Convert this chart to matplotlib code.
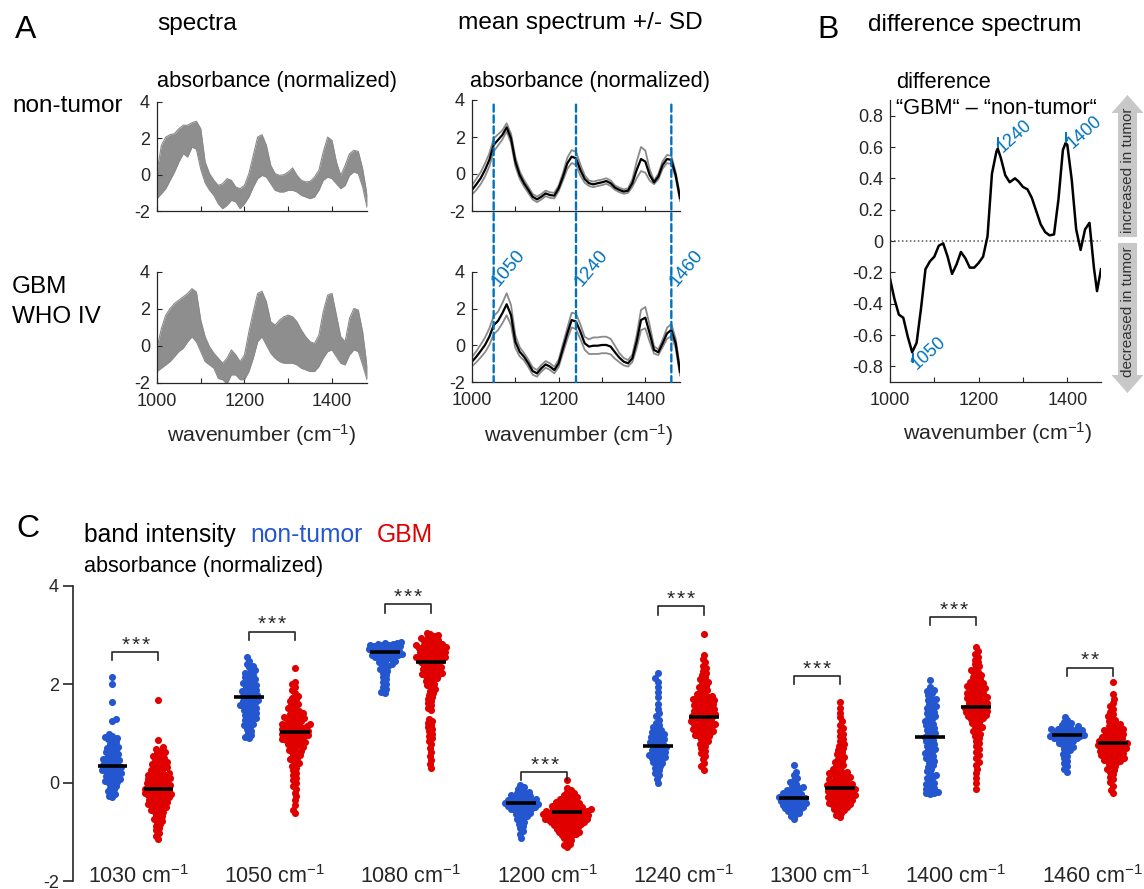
# FTIR band figure: spectra, mean +/- SD, difference spectrum, band intensity swarms
import numpy as np
import matplotlib
matplotlib.use("Agg")
import matplotlib.pyplot as plt
from matplotlib.patches import ConnectionPatch, Polygon

plt.rcParams["font.family"] = ["Liberation Sans", "DejaVu Sans"]
plt.rcParams["mathtext.fontset"] = "custom"
plt.rcParams["mathtext.rm"] = "Liberation Sans"
plt.rcParams["mathtext.it"] = "Liberation Sans:italic"
plt.rcParams["mathtext.bf"] = "Liberation Sans:bold"
plt.rcParams["axes.unicode_minus"] = False

# ---------------- data ----------------
wn = [1000, 1010, 1020, 1030, 1040, 1050, 1060, 1070, 1080, 1090,
      1100, 1110, 1120, 1130, 1140, 1150, 1160, 1170, 1180, 1190,
      1200, 1210, 1220, 1230, 1240, 1250, 1260, 1270, 1280, 1290,
      1300, 1310, 1320, 1330, 1340, 1350, 1360, 1370, 1380, 1390,
      1400, 1410, 1420, 1430, 1440, 1450, 1460, 1470, 1480]

# envelope of the individual spectra
nt_hi = [0.15, 1.61, 2.07, 2.2, 2.26, 2.53, 2.72, 2.72, 2.86, 2.94,
         2.53, 0.7, 0.06, -0.31, -0.59, -0.5, -0.22, -0.31, -0.68, -0.77,
         -0.59, 0.06, 1.06, 2.07, 2.2, 1.61, 0.51, 0.06, -0.04, 0.0,
         0.15, 0.37, -0.04, -0.31, -0.4, -0.37, -0.13, 0.24, 1.25, 2.07,
         1.89, 0.7, -0.04, 0.51, 1.15, 1.34, 1.28, 0.33, -1.1]
nt_lo = [-1.32, -1.05, -0.77, -0.31, 0.15, 0.7, 1.16, 0.97, 1.52, 1.4,
         0.3, -0.45, -0.85, -1.14, -1.6, -1.87, -1.69, -1.41, -1.5, -1.87,
         -1.6, -1.23, -0.68, -0.22, -0.04, -0.13, -0.5, -0.86, -0.95, -0.95,
         -0.86, -0.86, -0.95, -1.14, -1.23, -1.32, -1.23, -0.86, -0.31, -0.13,
         -0.22, -0.5, -0.77, -0.59, -0.04, 0.15, 0.06, -0.68, -1.8]
gbm_hi = [-0.12, 0.95, 1.67, 2.03, 2.3, 2.48, 2.66, 2.84, 3.1, 2.92,
          1.4, 0.5, -0.04, -0.39, -0.66, -0.93, -0.66, -0.21, -0.48, -0.84,
          -0.48, 0.77, 1.85, 2.84, 2.96, 2.39, 1.31, 1.13, 1.4, 1.58,
          1.67, 1.58, 1.31, 0.86, 0.5, 0.23, 0.14, 0.59, 1.85, 2.75,
          2.84, 1.67, 0.5, 0.23, 1.49, 2.03, 1.94, 0.77, -1.1]
gbm_lo = [-1.38, -1.2, -1.02, -0.84, -0.57, -0.3, -0.12, 0.23, 0.5, 0.23,
          -0.3, -0.84, -1.02, -1.2, -1.75, -1.82, -2.05, -1.56, -1.56, -1.82,
          -1.82, -1.38, -0.66, 0.23, 0.5, 0.05, -0.39, -0.66, -0.84, -0.93,
          -0.93, -0.93, -1.02, -1.2, -1.29, -1.38, -1.38, -1.11, -0.66, -0.3,
          -0.21, -0.57, -0.93, -1.02, -0.48, -0.21, -0.3, -1.02, -1.82]

# mean spectra and SD
nt_mean = [-0.86, -0.56, -0.23, 0.22, 0.76, 1.57, 1.84, 2.11, 2.52, 1.93,
           0.67, -0.05, -0.5, -0.86, -1.23, -1.37, -1.23, -1.05, -1.14, -1.17,
           -0.77, -0.14, 0.58, 0.94, 0.85, 0.22, -0.27, -0.5, -0.56, -0.5,
           -0.45, -0.38, -0.5, -0.74, -0.86, -0.95, -0.9, -0.5, 0.22, 0.81,
           0.67, -0.05, -0.45, -0.14, 0.49, 0.81, 0.76, -0.05, -1.3]
nt_sd = [0.25, 0.3, 0.32, 0.35, 0.35, 0.35, 0.3, 0.25, 0.22, 0.25,
         0.25, 0.2, 0.18, 0.17, 0.15, 0.15, 0.15, 0.15, 0.15, 0.15,
         0.15, 0.2, 0.3, 0.35, 0.35, 0.3, 0.2, 0.15, 0.15, 0.15,
         0.15, 0.15, 0.15, 0.12, 0.12, 0.12, 0.12, 0.2, 0.45, 0.65,
         0.6, 0.3, 0.1, 0.15, 0.2, 0.22, 0.22, 0.15, 0.15]
gbm_mean = [-0.89, -0.62, -0.31, 0.02, 0.47, 1.1, 1.33, 1.75, 2.24, 1.65,
            0.2, -0.35, -0.62, -0.98, -1.4, -1.53, -1.25, -1.04, -1.16, -1.35,
            -0.98, -0.16, 0.65, 1.38, 1.3, 0.75, 0.11, -0.07, -0.02, -0.02,
            0.02, 0.02, -0.07, -0.38, -0.67, -0.89, -0.98, -0.71, 0.2, 1.38,
            1.51, 0.65, -0.25, -0.38, 0.11, 0.65, 0.84, 0.11, -1.44]
gbm_sd = [0.25, 0.3, 0.35, 0.4, 0.45, 0.5, 0.5, 0.55, 0.6, 0.55,
          0.35, 0.25, 0.2, 0.2, 0.2, 0.18, 0.18, 0.18, 0.18, 0.18,
          0.2, 0.25, 0.3, 0.4, 0.42, 0.4, 0.35, 0.4, 0.45, 0.45,
          0.45, 0.45, 0.42, 0.35, 0.25, 0.2, 0.18, 0.2, 0.35, 0.55,
          0.58, 0.45, 0.2, 0.15, 0.2, 0.3, 0.33, 0.25, 0.2]
mean_marks = [1050, 1240, 1460]

# difference spectrum GBM - non-tumor
diff_wn = [1000, 1010, 1020, 1030, 1040, 1050, 1060, 1070, 1080, 1090,
           1100, 1110, 1120, 1130, 1140, 1150, 1160, 1170, 1180, 1190,
           1200, 1210, 1220, 1230, 1240, 1243, 1250, 1260, 1270, 1282,
           1290, 1300, 1310, 1320, 1330, 1340, 1350, 1360, 1370, 1380,
           1390, 1396, 1400, 1410, 1420, 1430, 1440, 1450, 1460, 1467, 1476]
diff_val = [-0.24, -0.37, -0.47, -0.49, -0.61, -0.71, -0.65, -0.43, -0.18, -0.13,
            -0.1, -0.03, -0.015, -0.1, -0.21, -0.15, -0.07, -0.11, -0.17, -0.17,
            -0.14, -0.1, 0.03, 0.43, 0.57, 0.59, 0.53, 0.42, 0.375, 0.4,
            0.38, 0.345, 0.33, 0.275, 0.19, 0.106, 0.057, 0.036, 0.042, 0.265,
            0.58, 0.625, 0.614, 0.39, 0.074, -0.057, 0.074, 0.116, -0.17, -0.32, -0.18]
diff_marks = [(1051, -0.72, -0.77, "1050"), (1243, 0.60, 0.66, "1240"), (1396, 0.63, 0.69, "1400")]

# band intensities
bands = [1030, 1050, 1080, 1200, 1240, 1300, 1400, 1460]
nt_vals = [
    [2.15, 2.0, 1.65, 1.3, 1.25, 0.98, 0.95, 0.92, 0.9, 0.88, 0.85, 0.82, 0.78, 0.75, 0.72, 0.7,
     0.68, 0.65, 0.62, 0.6, 0.58, 0.55, 0.53, 0.5, 0.48, 0.46, 0.44, 0.42, 0.4, 0.38, 0.36, 0.35,
     0.33, 0.31, 0.3, 0.28, 0.26, 0.25, 0.23, 0.21, 0.2, 0.18, 0.16, 0.14, 0.12, 0.1, 0.08, 0.06,
     0.04, 0.02, 0.0, -0.03, -0.06, -0.1, -0.13, -0.17, -0.2, -0.24, -0.28, -0.3],
    [2.55, 2.48, 2.42, 2.38, 2.35, 2.3, 2.27, 2.24, 2.2, 2.18, 2.15, 2.12, 2.1, 2.07, 2.05, 2.02,
     2.0, 1.98, 1.95, 1.93, 1.9, 1.88, 1.86, 1.84, 1.82, 1.8, 1.78, 1.76, 1.74, 1.72, 1.7, 1.68,
     1.66, 1.64, 1.62, 1.6, 1.58, 1.56, 1.54, 1.52, 1.5, 1.47, 1.45, 1.42, 1.4, 1.38, 1.35, 1.32,
     1.3, 1.27, 1.24, 1.2, 1.17, 1.14, 1.1, 1.06, 1.02, 0.97, 0.92, 0.9],
    [2.86, 2.85, 2.84, 2.83, 2.82, 2.81, 2.8, 2.79, 2.78, 2.77, 2.76, 2.75, 2.74, 2.73, 2.72, 2.71,
     2.7, 2.69, 2.68, 2.67, 2.66, 2.65, 2.64, 2.63, 2.62, 2.61, 2.6, 2.59, 2.58, 2.57, 2.56, 2.55,
     2.54, 2.52, 2.5, 2.48, 2.46, 2.44, 2.42, 2.4, 2.37, 2.34, 2.31, 2.28, 2.24, 2.2, 2.15, 2.1,
     2.05, 2.0, 1.95, 1.9, 1.85, 1.82],
    [-0.04, -0.08, -0.12, -0.15, -0.18, -0.2, -0.22, -0.24, -0.26, -0.27, -0.29, -0.3, -0.32,
     -0.33, -0.34, -0.36, -0.37, -0.38, -0.39, -0.4, -0.41, -0.42, -0.43, -0.44, -0.45, -0.46,
     -0.47, -0.48, -0.49, -0.5, -0.51, -0.53, -0.54, -0.55, -0.57, -0.58, -0.6, -0.62, -0.64,
     -0.66, -0.68, -0.7, -0.73, -0.76, -0.8, -0.84, -0.88, -0.93, -0.98, -1.04, -1.12],
    [2.23, 2.12, 2.05, 1.95, 1.85, 1.75, 1.6, 1.5, 1.42, 1.35, 1.28, 1.22, 1.17, 1.13, 1.1, 1.07,
     1.04, 1.01, 0.99, 0.97, 0.95, 0.93, 0.91, 0.89, 0.87, 0.85, 0.83, 0.81, 0.79, 0.77, 0.75,
     0.73, 0.71, 0.69, 0.67, 0.65, 0.63, 0.61, 0.59, 0.57, 0.55, 0.53, 0.51, 0.49, 0.46, 0.43,
     0.4, 0.37, 0.33, 0.29, 0.25, 0.2, 0.15, 0.08, 0.0],
    [0.36, 0.22, 0.15, 0.1, 0.05, 0.01, -0.03, -0.06, -0.09, -0.11, -0.13, -0.15, -0.17, -0.19,
     -0.21, -0.22, -0.24, -0.25, -0.27, -0.28, -0.3, -0.31, -0.32, -0.33, -0.35, -0.36, -0.37,
     -0.38, -0.4, -0.41, -0.42, -0.43, -0.45, -0.46, -0.47, -0.49, -0.5, -0.52, -0.54, -0.56,
     -0.58, -0.6, -0.62, -0.65, -0.68, -0.73],
    [2.09, 1.95, 1.88, 1.86, 1.82, 1.78, 1.73, 1.7, 1.68, 1.64, 1.6, 1.56, 1.55, 1.52, 1.48, 1.44,
     1.41, 1.38, 1.35, 1.32, 1.29, 1.26, 1.23, 1.2, 1.17, 1.14, 1.11, 1.08, 1.05, 1.02, 0.99,
     0.96, 0.93, 0.9, 0.87, 0.84, 0.81, 0.78, 0.75, 0.72, 0.69, 0.66, 0.63, 0.6, 0.57, 0.54,
     0.51, 0.48, 0.44, 0.4, 0.36, 0.32, 0.28, 0.24, 0.2, 0.15, 0.12, 0.1, 0.05, 0.0, -0.02,
     -0.05, -0.1, -0.12, -0.15, -0.18, -0.2, -0.21, -0.24],
    [1.34, 1.28, 1.24, 1.21, 1.19, 1.17, 1.15, 1.13, 1.12, 1.1, 1.09, 1.08, 1.07, 1.06, 1.05,
     1.04, 1.03, 1.02, 1.01, 1.0, 0.99, 0.98, 0.97, 0.96, 0.95, 0.94, 0.93, 0.92, 0.91, 0.9,
     0.89, 0.88, 0.87, 0.85, 0.83, 0.81, 0.79, 0.77, 0.75, 0.72, 0.69, 0.66, 0.62, 0.58, 0.54,
     0.5, 0.45, 0.4, 0.34, 0.28, 0.22],
]
gbm_vals = [
    [1.68, 0.87, 0.72, 0.68, 0.65, 0.62, 0.6, 0.57, 0.55, 0.52, 0.5, 0.48, 0.45, 0.43, 0.41, 0.39,
     0.37, 0.35, 0.33, 0.31, 0.29, 0.27, 0.25, 0.23, 0.21, 0.2, 0.18, 0.16, 0.14, 0.12, 0.11,
     0.09, 0.07, 0.06, 0.04, 0.02, 0.01, -0.01, -0.03, -0.04, -0.06, -0.08, -0.09, -0.11, -0.12,
     -0.14, -0.15, -0.17, -0.18, -0.2, -0.21, -0.23, -0.24, -0.26, -0.27, -0.29, -0.3, -0.32,
     -0.34, -0.35, -0.37, -0.39, -0.41, -0.43, -0.45, -0.47, -0.49, -0.51, -0.53, -0.55, -0.57,
     -0.6, -0.62, -0.65, -0.68, -0.71, -0.74, -0.77, -0.8, -0.84, -0.88, -0.92, -0.97, -1.02,
     -1.08, -1.15, 0.15, 0.05, -0.05, -0.16, -0.25, -0.36, -0.44],
    [2.33, 2.05, 2.0, 1.95, 1.88, 1.82, 1.77, 1.73, 1.7, 1.66, 1.63, 1.6, 1.57, 1.54, 1.51, 1.48,
     1.46, 1.43, 1.41, 1.39, 1.37, 1.35, 1.33, 1.31, 1.29, 1.27, 1.25, 1.23, 1.21, 1.2, 1.18,
     1.16, 1.15, 1.13, 1.12, 1.1, 1.09, 1.07, 1.06, 1.04, 1.03, 1.01, 1.0, 0.98, 0.97, 0.95,
     0.94, 0.92, 0.9, 0.88, 0.86, 0.84, 0.82, 0.8, 0.78, 0.76, 0.74, 0.72, 0.7, 0.67, 0.65, 0.62,
     0.6, 0.57, 0.54, 0.51, 0.48, 0.45, 0.41, 0.37, 0.33, 0.29, 0.25, 0.2, 0.15, 0.1, 0.05, 0.0,
     -0.06, -0.12, -0.2, -0.28, -0.36, -0.45, -0.55, -0.62, 1.1, 1.0, 0.9, 0.8, 1.2, 1.3, 0.95,
     1.05, 0.85, 1.15],
    [3.05, 3.02, 3.0, 2.98, 2.96, 2.94, 2.92, 2.9, 2.88, 2.86, 2.85, 2.83, 2.82, 2.8, 2.79, 2.77,
     2.76, 2.74, 2.73, 2.71, 2.7, 2.68, 2.67, 2.65, 2.64, 2.62, 2.61, 2.59, 2.58, 2.56, 2.55,
     2.53, 2.52, 2.5, 2.49, 2.47, 2.45, 2.43, 2.41, 2.39, 2.37, 2.35, 2.33, 2.31, 2.29, 2.27,
     2.25, 2.23, 2.21, 2.19, 2.17, 2.15, 2.12, 2.1, 2.07, 2.04, 2.01, 1.98, 1.95, 1.91, 1.87,
     1.83, 1.79, 1.75, 1.71, 1.67, 1.62, 1.57, 1.52, 1.47, 1.3, 1.26, 1.22, 1.18, 1.13, 1.09,
     1.05, 1.0, 0.95, 0.9, 0.85, 0.78, 0.7, 0.62, 0.54, 0.46, 0.38, 0.3, 2.8, 2.7, 2.6, 2.5, 2.4,
     2.3, 2.2, 2.75, 2.65, 2.55],
    [0.06, -0.1, -0.15, -0.19, -0.22, -0.25, -0.27, -0.29, -0.31, -0.33, -0.35, -0.36, -0.38,
     -0.39, -0.41, -0.42, -0.44, -0.45, -0.46, -0.48, -0.49, -0.5, -0.51, -0.52, -0.53, -0.54,
     -0.55, -0.56, -0.57, -0.58, -0.59, -0.6, -0.61, -0.62, -0.63, -0.64, -0.65, -0.66, -0.67,
     -0.68, -0.69, -0.7, -0.71, -0.72, -0.73, -0.74, -0.75, -0.76, -0.77, -0.78, -0.8, -0.81,
     -0.82, -0.84, -0.85, -0.87, -0.88, -0.9, -0.92, -0.94, -0.96, -0.98, -1.0, -1.02, -1.04,
     -1.07, -1.1, -1.13, -1.16, -1.2, -1.24, -1.27, -1.3, -0.47, -0.53, -0.57, -0.61, -0.64,
     -0.67, -0.7, -0.73, -0.76, -0.79, -0.83, -0.86, -0.9, -0.95, -1.0, -1.06],
    [3.03, 2.6, 2.52, 2.45, 2.38, 2.33, 2.28, 2.23, 2.19, 2.15, 2.11, 2.07, 2.04, 2.0, 1.97,
     1.94, 1.91, 1.88, 1.85, 1.82, 1.8, 1.77, 1.75, 1.72, 1.7, 1.68, 1.66, 1.64, 1.62, 1.6,
     1.58, 1.56, 1.54, 1.52, 1.5, 1.48, 1.46, 1.44, 1.42, 1.4, 1.38, 1.36, 1.34, 1.32, 1.3,
     1.28, 1.26, 1.24, 1.22, 1.2, 1.18, 1.16, 1.14, 1.12, 1.1, 1.08, 1.06, 1.04, 1.02, 1.0,
     0.97, 0.94, 0.91, 0.88, 0.85, 0.82, 0.78, 0.74, 0.7, 0.65, 0.6, 0.55, 0.48, 0.4, 0.33,
     0.26, 1.45, 1.35, 1.25, 1.15, 1.05, 0.95, 1.55, 1.65, 1.74, 1.4, 1.3, 1.2],
    [1.65, 1.52, 1.42, 1.33, 1.25, 1.18, 1.11, 1.05, 0.99, 0.94, 0.89, 0.84, 0.79, 0.75, 0.71,
     0.67, 0.63, 0.59, 0.55, 0.52, 0.48, 0.45, 0.42, 0.39, 0.36, 0.33, 0.3, 0.27, 0.24, 0.22,
     0.19, 0.17, 0.14, 0.12, 0.1, 0.08, 0.06, 0.04, 0.02, 0.0, -0.02, -0.04, -0.05, -0.07,
     -0.09, -0.1, -0.12, -0.13, -0.15, -0.16, -0.18, -0.19, -0.21, -0.22, -0.24, -0.25, -0.27,
     -0.28, -0.3, -0.31, -0.33, -0.34, -0.36, -0.38, -0.4, -0.42, -0.44, -0.46, -0.48, -0.51,
     -0.54, -0.57, -0.61, -0.65, -0.69, -0.03, -0.08, -0.14, -0.2, -0.26, -0.32, -0.37, -0.43,
     -0.49, -0.55, 0.05, 0.11, 0.16, 0.21],
    [2.76, 2.68, 2.62, 2.56, 2.5, 2.45, 2.41, 2.37, 2.33, 2.29, 2.26, 2.23, 2.2, 2.17, 2.14,
     2.11, 2.08, 2.05, 2.02, 2.0, 1.97, 1.95, 1.92, 1.9, 1.88, 1.85, 1.83, 1.81, 1.79, 1.77,
     1.75, 1.73, 1.71, 1.69, 1.67, 1.65, 1.63, 1.61, 1.59, 1.57, 1.55, 1.53, 1.51, 1.49, 1.47,
     1.45, 1.43, 1.41, 1.39, 1.37, 1.35, 1.33, 1.31, 1.28, 1.25, 1.22, 1.19, 1.16, 1.13, 1.1,
     1.06, 1.02, 0.98, 0.94, 0.9, 0.85, 0.8, 0.75, 0.69, 0.63, 0.57, 0.5, 0.43, 0.36, 0.28, 0.2,
     0.1, 0.0, -0.12, 1.62, 1.52, 1.42, 1.72, 1.82, 1.93, 2.03, 1.3, 1.36, 1.48],
    [2.05, 1.8, 1.7, 1.62, 1.55, 1.49, 1.44, 1.39, 1.35, 1.31, 1.28, 1.25, 1.22, 1.19, 1.16,
     1.14, 1.12, 1.1, 1.08, 1.06, 1.04, 1.02, 1.0, 0.98, 0.96, 0.94, 0.92, 0.9, 0.88, 0.86,
     0.85, 0.83, 0.82, 0.8, 0.79, 0.77, 0.76, 0.74, 0.73, 0.71, 0.7, 0.68, 0.67, 0.65, 0.63,
     0.61, 0.59, 0.57, 0.55, 0.53, 0.51, 0.49, 0.47, 0.45, 0.42, 0.4, 0.37, 0.34, 0.31, 0.28,
     0.25, 0.21, 0.17, 0.12, 0.07, 0.01, -0.06, -0.14, -0.22, 0.9, 0.8, 0.7, 0.6, 0.5, 0.75,
     0.85, 0.95, 0.65, 0.55, 1.05, 0.45],
]
nt_bar = [0.33, 1.75, 2.65, -0.41, 0.75, -0.32, 0.93, 0.96]
gbm_bar = [-0.13, 1.03, 2.45, -0.59, 1.34, -0.11, 1.54, 0.81]
bracket_y = [2.66, 3.07, 3.63, 0.22, 3.59, 2.17, 3.37, 2.34]
stars = ["***", "***", "***", "***", "***", "***", "***", "**"]

# ---------------- figure ----------------
W, H = 1144, 889
fig = plt.figure(figsize=(W / 100, H / 100), dpi=100)
axc = "#262626"
blue_lab = "#0072BD"
c_nt = "#2456d0"
c_gbm = "#e00000"


def box(l, t, r, b):
    return fig.add_axes([l / W, 1 - b / H, (r - l) / W, (b - t) / H])


def matlab(ax, xlab=True):
    for s in ["top", "right"]:
        ax.spines[s].set_visible(False)
    for s in ["left", "bottom"]:
        ax.spines[s].set_color(axc)
        ax.spines[s].set_linewidth(0.9)
    ax.tick_params(direction="in", length=3.5, width=0.8, colors=axc, labelsize=13, pad=5)
    ax.tick_params(axis="x", pad=7)
    ax.set_xticks([1000, 1100, 1200, 1300, 1400])
    ax.set_xticklabels(["1000", "", "1200", "", "1400"] if xlab else [""] * 5)
    ax.patch.set_alpha(0)


# A: individual spectra (bundle)
sp_top = box(157, 102, 367, 211)
sp_bot = box(157, 272, 367, 383)
for ax, hi, lo, xl in [(sp_top, nt_hi, nt_lo, False), (sp_bot, gbm_hi, gbm_lo, True)]:
    ax.fill_between(wn, lo, hi, color="#8e8e8e", lw=0)
    ax.plot(wn, hi, color="#8a8a8a", lw=0.8)
    ax.plot(wn, lo, color="#8a8a8a", lw=0.8)
    ax.set_xlim(1000, 1480)
    ax.set_ylim(-2, 4)
    ax.set_yticks([-2, 0, 2, 4])
    ax.set_yticklabels(["-2", "0", "2", "4"])
    matlab(ax, xl)

# A: mean +/- SD
mn_top = box(472, 100, 680, 211)
mn_bot = box(472, 272, 680, 382)
for ax, m, s, xl in [(mn_top, nt_mean, nt_sd, False), (mn_bot, gbm_mean, gbm_sd, True)]:
    m = np.array(m)
    s = np.array(s)
    ax.plot(wn, m + s, color="#8a8a8a", lw=1.3)
    ax.plot(wn, m - s, color="#8a8a8a", lw=1.3)
    ax.plot(wn, m, color="black", lw=1.6)
    ax.set_xlim(1000, 1480)
    ax.set_ylim(-2, 4)
    ax.set_yticks([-2, 0, 2, 4])
    ax.set_yticklabels(["-2", "0", "2", "4"])
    matlab(ax, xl)

for wl in mean_marks:
    con = ConnectionPatch(xyA=(wl, 3.75), coordsA=mn_top.transData,
                          xyB=(wl, -2), coordsB=mn_bot.transData,
                          color=blue_lab, lw=1.7, linestyle=(0, (3, 1.6)), zorder=5)
    fig.add_artist(con)
    mn_bot.text(wl + 12, 3.18, str(wl), color=blue_lab, fontsize=13.5, rotation=50,
                rotation_mode="anchor", ha="left", va="baseline")

# B: difference spectrum
axb = box(890, 100, 1101, 382)
axb.axhline(0, color="#555555", lw=1.1, ls=(0, (1, 1.6)))
axb.plot(diff_wn, diff_val, color="black", lw=1.8)
for x, y0, y1, lab in diff_marks:
    axb.plot([x, x], [y0, y1], color=blue_lab, lw=1.4)
axb.text(1061, -0.825, "1050", color=blue_lab, fontsize=13, rotation=42,
         rotation_mode="anchor", ha="left", va="baseline")
axb.text(1253, 0.56, "1240", color=blue_lab, fontsize=13, rotation=42,
         rotation_mode="anchor", ha="left", va="baseline")
axb.text(1411, 0.59, "1400", color=blue_lab, fontsize=13, rotation=42,
         rotation_mode="anchor", ha="left", va="baseline")
axb.set_xlim(1000, 1476)
axb.set_ylim(-0.9, 0.9)
yt = [-0.8, -0.6, -0.4, -0.2, 0, 0.2, 0.4, 0.6, 0.8]
axb.set_yticks(yt)
axb.set_yticklabels(["0" if v == 0 else "%.1f" % v for v in yt])
matlab(axb, True)

# C: band intensity swarms
axs = box(73, 586, 1144, 881)
axs.set_xlim(-0.4585, 7.399)
axs.set_ylim(-2, 4)
pxu = 295 / 6.0      # px per absorbance unit
pxk = 136.3          # px per band slot
dot = 4.1            # swarm spacing in px (dots overlap a little)


def swarm(vals):
    y = np.array(vals) * pxu
    xs = np.zeros(len(y))
    placed = []
    for n, i in enumerate(np.argsort(y)):
        near = [(px, py) for px, py in placed if abs(py - y[i]) < dot]
        cands = [0.0]
        for px, py in near:
            dx = np.sqrt(dot * dot - (py - y[i]) ** 2)
            cands += [px - dx, px + dx]
        sgn = 1 if n % 2 else -1
        cands.sort(key=lambda c: (round(abs(c), 6), sgn * c))
        for c in cands:
            if all((c - px) ** 2 + (y[i] - py) ** 2 >= dot * dot - 1e-6 for px, py in near):
                xs[i] = c
                break
        placed.append((xs[i], y[i]))
    return xs / pxk


off = 46 / pxk / 2
for k in range(len(bands)):
    for vals, bar, col, sx in [(nt_vals[k], nt_bar[k], c_nt, -off), (gbm_vals[k], gbm_bar[k], c_gbm, off)]:
        xo = swarm(vals)
        axs.scatter(k + sx + xo, vals, s=26, color=col, lw=0, zorder=2)
        axs.plot([k + sx - 0.11, k + sx + 0.11], [bar, bar], color="black", lw=2.6,
                 solid_capstyle="butt", zorder=3)
    by = bracket_y[k]
    axs.plot([k - off, k - off, k + off, k + off], [by - 0.17, by, by, by - 0.17],
             color=axc, lw=1.2)
    ns = len(stars[k])
    for j in range(ns):
        axs.text(k + (j - (ns - 1) / 2) * 0.073, by + 0.03, "*", fontsize=15,
                 ha="center", va="baseline", color=axc)
    axs.text(k + 0.02, -0.0068, "%d cm$^{-1}$" % bands[k], transform=axs.get_xaxis_transform(),
             ha="center", va="baseline", fontsize=15.5, color=axc)

for s in ["top", "right", "bottom"]:
    axs.spines[s].set_visible(False)
axs.spines["left"].set_color(axc)
axs.spines["left"].set_linewidth(1.2)
axs.set_xticks([])
axs.set_yticks([-2, 0, 2, 4])
axs.set_yticklabels(["-2", "0", "2", "4"])
axs.tick_params(axis="y", direction="out", length=7, width=1.2, colors=axc, labelsize=13, pad=3)
axs.patch.set_alpha(0)

# ---------------- overlay text & arrows ----------------
ov = fig.add_axes([0, 0, 1, 1])
ov.set_xlim(0, W)
ov.set_ylim(H, 0)
ov.axis("off")


def t(x, y, s, fs, **kw):
    ov.text(x, y, s, fontsize=fs, va="baseline", **kw)


t(15, 38, "A", 23)
t(157, 30, "spectra", 17.6)
t(458, 29, "mean spectrum +/- SD", 17.6)
t(817, 38, "B", 23)
t(868, 31, "difference spectrum", 17.6)
t(157, 87, "absorbance (normalized)", 15.7)
t(470, 87, "absorbance (normalized)", 15.7)
t(12, 112, "non-tumor", 17.5)
t(12, 293, "GBM", 17.5)
t(12, 323, "WHO IV", 17.5)
for cx, by in [(262, 442), (579, 442), (998, 440)]:
    t(cx, by, "wavenumber (cm$^{-1}$)", 15.4, ha="center", color=axc)
t(896, 88, "difference", 15.7)
t(896, 114, "\u201cGBM\u201c \u2013 \u201cnon-tumor\u201c", 15.7)

t(16, 537, "C", 23)
t(84, 542, "band intensity", 17.7)
t(250, 542, "non-tumor", 17.7, color=c_nt)
t(377, 542, "GBM", 17.7, color=c_gbm)
t(84, 572, "absorbance (normalized)", 15.6)

# gray double arrow in B
cx = 1127.5
up = [(cx, 95), (cx + 16, 113), (cx + 9.5, 113), (cx + 9.5, 237), (cx - 9.5, 237),
      (cx - 9.5, 113), (cx - 16, 113)]
dn = [(cx, 393), (cx + 16, 375), (cx + 9.5, 375), (cx + 9.5, 243), (cx - 9.5, 243),
      (cx - 9.5, 375), (cx - 16, 375)]
for pts in (up, dn):
    ov.add_patch(Polygon(pts, closed=True, color="#c8c8c8", lw=0))
ov.text(cx, 170, "increased in tumor", fontsize=11, rotation=90, ha="center", va="center", color="#333333")
ov.text(cx, 312, "decreased in tumor", fontsize=11, rotation=90, ha="center", va="center", color="#333333")

fig.savefig("out.png", dpi=100)
